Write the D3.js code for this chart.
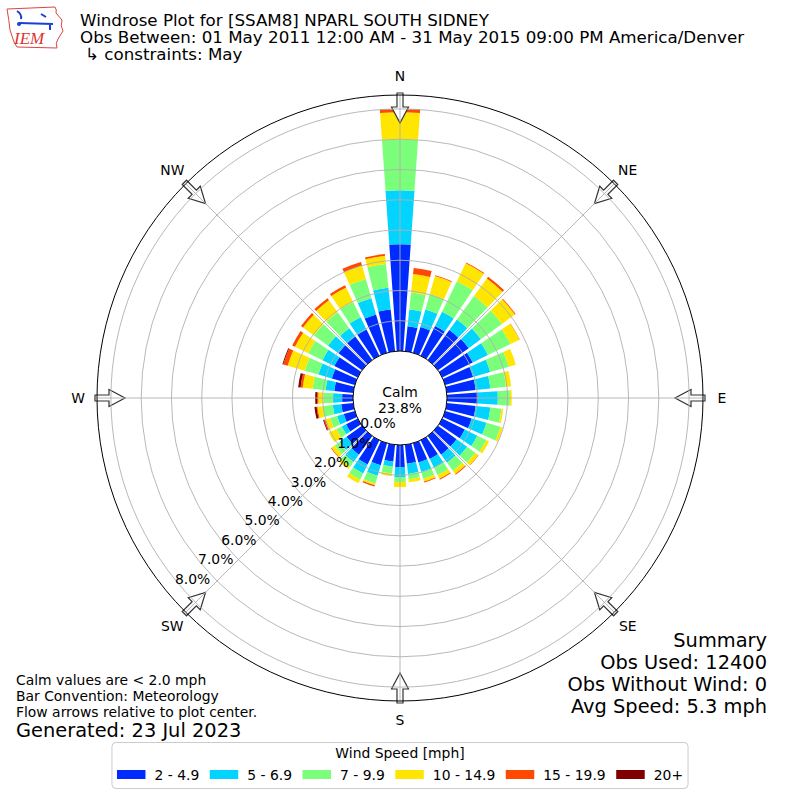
<!DOCTYPE html>
<html>
<head>
<meta charset="utf-8">
<script src="https://cdn.jsdelivr.net/npm/d3@7"></script>
<style>
body{margin:0;background:#fff;}
text{font-family:"DejaVu Sans",sans-serif;fill:#000;}
</style>
</head>
<body>
<svg id="chart" width="800" height="800"></svg>
<script>
// direction bins (deg, meteorological convention)
var directions = [0,10,20,30,40,50,60,70,80,90,100,110,120,130,140,150,160,170,
                  180,190,200,210,220,230,240,250,260,270,280,290,300,310,320,330,340,350];
var speedBins = ['2 - 4.9','5 - 6.9','7 - 9.9','10 - 14.9','15 - 19.9','20+'];
var binColors = ['#002bff','#00d4ff','#7bff7b','#ffe600','#ff4800','#800000'];
var compassNames = ['N','NE','E','SE','S','SW','W','NW'];
var compassAngles = [0,45,90,135,180,225,270,315];
var ringTicks = [0,1,2,3,4,5,6,7,8];

// frequency (%) per direction, one array per speed bin
var spd2to5 = [3.53,0.83,0.89,1.09,1.22,1.25,1.12,0.96,0.96,1.02,0.96,0.91,0.83,0.76,0.76,0.69,0.66,0.63,
               0.73,0.56,0.76,0.89,0.76,0.63,0.43,0.38,0.40,0.36,0.63,0.79,0.86,0.96,0.96,0.97,1.32,1.39];
var spd5to7 = [1.78,0.56,0.60,0.53,0.43,0.50,0.56,0.59,0.49,0.66,0.49,0.51,0.46,0.43,0.33,0.33,0.33,0.34,
               0.33,0.17,0.36,0.33,0.30,0.29,0.16,0.23,0.28,0.30,0.29,0.46,0.44,0.43,0.34,0.45,0.56,0.72];
var spd7to10 = [1.69,0.56,0.52,1.12,0.96,0.86,0.83,0.64,0.52,0.40,0.37,0.48,0.33,0.33,0.33,0.27,0.23,0.18,
                0.16,0.23,0.27,0.23,0.19,0.20,0.20,0.24,0.34,0.32,0.43,0.47,0.52,0.57,0.65,0.56,0.66,0.79];
var spd10to15 = [0.89,0.62,0.63,0.66,0.72,0.53,0.33,0.24,0.17,0.06,0.06,0.08,0.10,0.13,0.13,0.13,0.10,0.10,
                 0.17,0.08,0.06,0.13,0.10,0.13,0.27,0.17,0.17,0.17,0.33,0.59,0.49,0.45,0.49,0.53,0.46,0.27];
var spd15to20 = [0.10,0.20,0.03,0.03,0.07,0.03,0.01,0,0,0,0,0,0,0.01,0.03,0.03,0.03,0,
                 0,0,0.04,0,0,0.02,0,0.04,0.03,0.04,0.07,0.15,0.10,0.08,0.08,0.08,0.12,0.06];
var spd20up = [0.01,0,0,0,0,0,0,0,0,0,0,0,0,0,0,0,0,0,
               0,0,0,0,0,0,0,0.03,0.07,0.06,0.08,0.03,0,0,0,0,0,0];
var calmPct = 23.8;

var titleLines = ['Windrose Plot for [SSAM8] NPARL SOUTH SIDNEY',
                  'Obs Between: 01 May 2011 12:00 AM - 31 May 2015 09:00 PM America/Denver',
                  '\u21b3 constraints: May'];
var summaryLines = ['Summary','Obs Used: 12400','Obs Without Wind: 0','Avg Speed: 5.3 mph'];
var noteLines = ['Calm values are < 2.0 mph','Bar Convention: Meteorology','Flow arrows relative to plot center.'];

var svg = d3.select('#chart');
var cx = 400, cy = 398;
var rScale = d3.scaleLinear().domain([0, 8.46]).range([47, 303]);
var rad = function(deg){ return deg*Math.PI/180; };
var halfWidth = 4; // bar half width, deg

var rows = directions.map(function(d, i){
	return {dir:d, b0:spd2to5[i], b1:spd5to7[i], b2:spd7to10[i], b3:spd10to15[i], b4:spd15to20[i], b5:spd20up[i]};
});
var stacked = d3.stack().keys(['b0','b1','b2','b3','b4','b5'])(rows);

var plot = svg.append('g').attr('transform', 'translate(' + cx + ',' + cy + ')');
var arc = d3.arc();

// bars
plot.selectAll('g.bin').data(stacked).enter().append('g')
	.attr('class','bin')
	.attr('fill', function(d, i){ return binColors[i]; })
	.selectAll('path').data(function(d){ return d; }).enter().append('path')
	.attr('d', function(d){
		return arc({innerRadius: rScale(d[0]), outerRadius: rScale(d[1]),
			startAngle: rad(d.data.dir - halfWidth), endAngle: rad(d.data.dir + halfWidth)});
	});

// flow arrows
var R = rScale.range()[1];
var arrowPts = [[-3,-R-2],[3,-R-2],[3,-R+12],[8.5,-R+12],[0,-R+28],[-8.5,-R+12],[-3,-R+12]];
plot.selectAll('path.arrow').data(compassAngles).enter().append('path')
	.attr('class','arrow')
	.attr('d', 'M' + arrowPts.join('L') + 'Z')
	.attr('transform', function(d){ return 'rotate(' + d + ')'; })
	.attr('fill','#fff').attr('stroke','#333').attr('stroke-width',1.2);

// grid
plot.selectAll('circle.ring').data(ringTicks.slice(1)).enter().append('circle')
	.attr('r', function(d){ return rScale(d); })
	.attr('fill','none').attr('stroke','#b0b0b0').attr('stroke-width',0.9);
plot.selectAll('line.spoke').data(compassAngles).enter().append('line')
	.attr('x1', function(d){ return rScale(0)*Math.sin(rad(d)); })
	.attr('y1', function(d){ return -rScale(0)*Math.cos(rad(d)); })
	.attr('x2', function(d){ return R*Math.sin(rad(d)); })
	.attr('y2', function(d){ return -R*Math.cos(rad(d)); })
	.attr('stroke','#b0b0b0').attr('stroke-width',0.9);
plot.append('circle').attr('r', R).attr('fill','none').attr('stroke','#000').attr('stroke-width',1);
plot.append('circle').attr('r', rScale(0)).attr('fill','#fff').attr('stroke','#000').attr('stroke-width',1);

// calm
plot.append('text').attr('text-anchor','middle').attr('y',-1.5).style('font-size','13.9px').text('Calm');
plot.append('text').attr('text-anchor','middle').attr('y',14.5).style('font-size','13.9px').text(calmPct.toFixed(1) + '%');

// ring labels along 230 deg
var labAng = rad(230);
plot.selectAll('text.rlab').data(ringTicks).enter().append('text')
	.attr('text-anchor','middle')
	.attr('x', function(d){ return rScale(d)*Math.sin(labAng) + 14; })
	.attr('y', function(d){ return -rScale(d)*Math.cos(labAng); })
	.style('font-size','13.9px')
	.text(function(d){ return d.toFixed(1) + '%'; });

// compass labels
plot.selectAll('text.dir').data(compassAngles).enter().append('text')
	.attr('text-anchor','middle').attr('dominant-baseline','central')
	.attr('x', function(d){ return 322*Math.sin(rad(d)); })
	.attr('y', function(d){ return -322*Math.cos(rad(d)); })
	.style('font-size','13.9px')
	.text(function(d, i){ return compassNames[i]; });

// titles
svg.selectAll('text.title').data(titleLines).enter().append('text')
	.attr('x', function(d, i){ return i==2 ? 85 : 80; })
	.attr('y', function(d, i){ return 26 + i*16.8; })
	.style('font-size','16.7px')
	.text(function(d){ return d; });

// summary
svg.selectAll('text.summary').data(summaryLines).enter().append('text')
	.attr('x',767).attr('text-anchor','end')
	.attr('y', function(d, i){ return 647 + i*22; })
	.style('font-size','19.4px')
	.text(function(d){ return d; });

// notes
svg.selectAll('text.note').data(noteLines).enter().append('text')
	.attr('x',16)
	.attr('y', function(d, i){ return 684.5 + i*16; })
	.style('font-size','13.9px')
	.text(function(d){ return d; });
svg.append('text').attr('x',16).attr('y',736.5).style('font-size','19.4px').text('Generated: 23 Jul 2023');

// legend, entries laid out by their text widths
var legend = svg.append('g');
var box = legend.append('rect').attr('y',742.5).attr('height',46).attr('rx',4)
	.attr('fill','#fff').attr('stroke','#ccc').attr('stroke-width',1);
legend.append('text').attr('x',400).attr('y',758).attr('text-anchor','middle').style('font-size','13.9px').text('Wind Speed [mph]');
var items = legend.selectAll('g.item').data(speedBins).enter().append('g');
items.append('rect').attr('width',28.5).attr('height',9).attr('fill', function(d, i){ return binColors[i]; });
items.append('text').attr('x',37.5).attr('y',9.5).style('font-size','13.9px').text(function(d){ return d; });

var xpos = [], cur = 0;
items.each(function(){
	xpos.push(cur);
	cur += 37.5 + d3.select(this).select('text').node().getComputedTextLength() + 10.5;
});
var contentW = cur - 10.5;
var x0 = 400 - contentW/2;
items.attr('transform', function(d, i){ return 'translate(' + (x0 + xpos[i]) + ',770)'; });
box.attr('x', x0 - 5).attr('width', contentW + 10);

// IEM logo
var logo = svg.append('g');
logo.append('path')
	.attr('d','M7,9 L55,7 Q57,10 56,13 L62,20 Q60,26 63,31 L58,39 Q55,43 57,48 L17,47 Q14,43 13,39 L10,30 Q9,20 7,9 Z')
	.attr('fill','none').attr('stroke','#d44').attr('stroke-width',1);
logo.append('path').attr('d','M19,23 L53,24 M50,23 L50,30 M17,11 Q22,14 21,19 M41,14 L46,17')
	.attr('fill','none').attr('stroke','#1a3fd6').attr('stroke-width',2);
logo.append('circle').attr('cx',19).attr('cy',24).attr('r',2).attr('fill','#1a3fd6');
logo.append('text').attr('x',14).attr('y',44)
	.style('font-family','"Liberation Serif",serif').style('font-style','italic').style('font-size','17px')
	.style('fill','#d33').text('IEM');
</script>
</body>
</html>
